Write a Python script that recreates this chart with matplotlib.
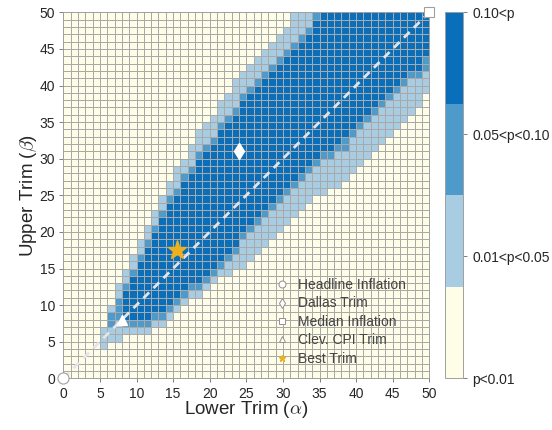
import numpy as np
import matplotlib.pyplot as plt
from matplotlib.colors import ListedColormap
from matplotlib.lines import Line2D

plt.rcParams['font.family'] = ['Liberation Sans', 'DejaVu Sans']
plt.rcParams['mathtext.fontset'] = 'cm'

# --------------------------------------------------
# Data: p-value class for each (lower trim, upper trim) cell
# 0: p<0.01, 1: 0.01<p<0.05, 2: 0.05<p<0.10, 3: 0.10<p
# bands given per lower-trim column (inclusive upper-trim rows)
# --------------------------------------------------
n_trim = 50
first_col = 5
light_lo = [4, 5, 5, 6, 6, 6, 6, 7, 7, 8, 9, 10, 11, 11, 12, 13, 14, 14, 15, 15,
            16, 17, 18, 19, 20, 21, 22, 23, 24, 25, 25, 26, 26, 27, 28, 29, 30, 31,
            32, 33, 34, 35, 36, 37, 39]
light_hi = [6, 9, 12, 14, 16, 18, 20, 22, 24, 26, 28, 29, 31, 33, 34, 35, 37, 38, 40, 41,
            42, 43, 44, 45, 46, 47] + [49] * 19
mid_lo = [None, 7, 8, 7, 7, 7, 7, 8, 8, 9, 10, 11, 12, 12, 13, 14, 15, 16, 17, 19,
          20, 21, 22, 23, 24, 25, 26, 27, 28, 29, 30, 30, 31, 31, 33, 34, 35, 36,
          37, 38, 39, 40, 41, 41, 42]
mid_hi = [None, 8, 10, 12, 14, 16, 18, 20, 22, 24, 25, 27, 28, 30, 31, 32, 34, 35, 36, 38,
          39, 40, 41, 42, 43, 44, 45, 46, 47, 49] + [49] * 15
dark_lo = [None, None, None, 8, 8, 8, 8, 9, 9, 10, 11, 12, 13, 13, 14, 15, 16, 17, 18, 20,
           21, 22, 23, 24, 25, 26, 27, 28, 29, 30, 31, 31, 32, 33, 34, 35, 36, 37,
           38, 39, 40, 41, 42, 42, 44]
dark_hi = [None, None, None, 11, 13, 15, 17, 19, 21, 23, 24, 26, 27, 29, 30, 31, 33, 34, 35, 37,
           38, 39, 40, 41, 42, 43, 44, 45, 46, 48] + [49] * 15

class_labels = ['p<0.01', '0.01<p<0.05', '0.05<p<0.10', '0.10<p']
class_colors = ['#FDFDE8', '#A8CDE2', '#4E9ACB', '#0A6FBA']

# reference trims (lower, upper)
trim_names = ['Headline Inflation', 'Dallas Trim', 'Median Inflation', 'Clev. CPI Trim', 'Best Trim']
trim_alpha = [0, 24, 50, 8, 15.5]
trim_beta = [0, 31, 50, 8, 17.5]

# --------------------------------------------------
# Build the grid
# --------------------------------------------------
Z = np.zeros((n_trim, n_trim))
for k in range(len(light_lo)):
    c = first_col + k
    for lo, hi, lev in [(light_lo[k], light_hi[k], 1),
                        (mid_lo[k], mid_hi[k], 2),
                        (dark_lo[k], dark_hi[k], 3)]:
        if lo is None:
            continue
        Z[lo:hi + 1, c] = lev

cmap = ListedColormap(class_colors)

fig = plt.figure(figsize=(5.52, 4.30), dpi=100)
ax = fig.add_axes([63.3 / 552, 1 - 378.3 / 430, 366 / 552, 366 / 430])

mesh = ax.pcolormesh(np.arange(n_trim + 1), np.arange(n_trim + 1), Z,
                     cmap=cmap, vmin=0, vmax=3,
                     edgecolors='#a9a9a9', linewidth=0.45)

ax.plot([0, 50], [0, 50], linestyle='--', color='#e4e4ea', lw=2,
        dashes=(2.9, 2.2), zorder=4, clip_on=False)

# markers
ax.plot(trim_alpha[0], trim_beta[0], 'o', ms=8, mfc='white', mec='#a0a0a0', mew=0.8, clip_on=False, zorder=6)
ax.plot(trim_alpha[1], trim_beta[1], 'd', ms=8, mfc='white', mec='white', clip_on=False, zorder=6)
ax.plot(trim_alpha[2], trim_beta[2], 's', ms=7, mfc='white', mec='#a0a0a0', mew=0.8, clip_on=False, zorder=6)
ax.plot(trim_alpha[3], trim_beta[3], '^', ms=7, mfc='white', mec='white', clip_on=False, zorder=6)
ax.plot(trim_alpha[4], trim_beta[4], '*', ms=14, mfc='#EDB120', mec='#EDB120', clip_on=False, zorder=6)

ax.set_xlim(0, 50)
ax.set_ylim(0, 50)
ax.set_xticks(range(0, 51, 5))
ax.set_yticks(range(0, 51, 5))
ax.tick_params(direction='out', length=3, width=0.7, color='#808080',
               labelcolor='#262626', labelsize=10, pad=3)
for s in ax.spines.values():
    s.set_color('#a0a0a0')
    s.set_linewidth(0.7)

ax.set_xlabel(r'Lower Trim ($\alpha$)', fontsize=13.5, color='#262626', labelpad=-1)
ax.set_ylabel(r'Upper Trim ($\beta$)', fontsize=13.5, color='#262626', labelpad=0)

# legend
mk = ['o', 'd', 's', '^', '*']
handles = []
for m, name in zip(mk, trim_names):
    if m == '*':
        handles.append(Line2D([], [], ls='none', marker=m, ms=5, mfc='#EDB120', mec='#EDB120'))
    else:
        handles.append(Line2D([], [], ls='none', marker=m, ms=5, mfc='white', mec='#909090', mew=0.7))
leg = ax.legend(handles, trim_names, loc='lower left', bbox_to_anchor=(0.54, 0.0),
                frameon=False, fontsize=10, handlelength=1.2, handletextpad=0.6,
                labelspacing=0.32)
for t in leg.get_texts():
    t.set_color('#454545')

# colorbar
cax = fig.add_axes([445 / 552, 1 - 378.3 / 430, 18.3 / 552, 366 / 430])
cb = fig.colorbar(mesh, cax=cax, ticks=[0, 1, 2, 3])
cb.ax.set_yticklabels(class_labels)
cb.ax.tick_params(direction='out', length=3, width=0.7, color='#808080',
                  labelcolor='#262626', labelsize=10)
cb.outline.set_edgecolor('#a0a0a0')
cb.outline.set_linewidth(0.7)

fig.savefig('out.png', dpi=100)
